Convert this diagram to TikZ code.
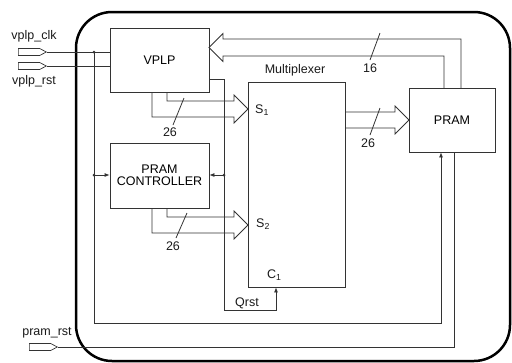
\documentclass[tikz,border=0pt]{standalone}
\usepackage{fontspec}
\setmainfont{Liberation Sans}
\usetikzlibrary{arrows.meta,shapes.symbols}
\begin{document}
\begin{tikzpicture}[x=1pt,y=-1pt,
  font=\fontsize{12.5}{14}\selectfont,
  wire/.style={draw=black!80,line width=0.8pt},
  blk/.style={draw=black!80,line width=0.8pt,minimum width=99pt,minimum height=64pt,inner sep=0pt,align=center},
  inport/.style={signal,signal to=east,signal pointer angle=55,draw=black!80,line width=0.7pt,minimum width=28pt,minimum height=7pt,inner sep=0pt},
  tip/.style={-{Latex[length=5pt,width=4pt]}},
  dot/.style={circle,fill=black!80,inner sep=0pt,minimum size=3pt},
  lbl/.style={inner sep=0pt,text=black!90}]
\useasboundingbox (0,0) rectangle (512,362);
% outer frame
\draw[line width=2.5pt,rounded corners=36pt] (76,12) rectangle (510,361);
% blocks
\node[blk] (vplp) at (159.5,60) {VPLP};
\node[blk,minimum height=65pt] (ctrl) at (159.5,175.5) {PRAM\\[-2pt]CONTROLLER};
\node[blk,minimum width=97pt,minimum height=205pt] (mux) at (296.5,184.5) {};
\node[blk,minimum width=86pt] (pram) at (452,120) {PRAM};
% inputs
\node[inport] (clk) at (29,52) {};
\node[inport] (rst) at (29,66) {};
\node[inport] (prst) at (40,347) {};
\node[lbl] (lclk) at (34,36) {vplp\_clk};
\node[lbl] (lrst) at (34,81) {vplp\_rst};
\node[lbl] (lprst) at (47,333) {pram\_rst};
% labels in mux
\node[lbl] (lmux) at (295,70) {Multiplexer};
\node[lbl,anchor=west] (s1) at (255,110) {S\textsubscript{1}};
\node[lbl,anchor=west] (s2) at (256,224) {S\textsubscript{2}};
\node[lbl,anchor=west] (c1) at (267,275) {C\textsubscript{1}};
\node[lbl] (qrst) at (247,303) {Qrst};
% clock / reset wires
\draw[wire] (clk.east) -- (clk.east -| vplp.west);
\draw[wire] (rst.east) -- (rst.east -| vplp.west);
\coordinate (j1) at (94,52);
\coordinate (j2) at (94,175);
\coordinate (j3) at (224,175);
\coordinate (b1) at (94,323);
\coordinate (b2) at (441,323);
\node[dot] (d1) at (j1) {};
\node[dot] (d2) at (j2) {};
\node[dot] (d3) at (j3) {};
\draw[wire,tip] (j1) -- (b1) -- (b2) -- (b2 |- pram.south);
\draw[wire,tip] (j2) -- (j2 -| ctrl.west);
\draw[wire,tip] (j3) -- (j3 -| ctrl.east);
\coordinate (q0) at (209,79);
\coordinate (q1) at (224,79);
\coordinate (q2) at (224,310);
\coordinate (q3) at (276,310);
\draw[wire,tip] (q0) -- (q1) -- (q2) -- (q3) -- (q3 |- mux.south);
\coordinate (p1) at (454,347);
\draw[wire] (prst.east) -- (p1) -- (p1 |- pram.south);
% bus VPLP -> S1
\draw[wire] (152,92) -- (152,117) -- (234,117) -- (234,123) -- (248,109) -- (234,95) -- (234,101) -- (167,101) -- (167,92);
\draw[wire] (184,98) -- (173,125);
\node[lbl] (n1) at (170,132) {26};
% bus CTRL -> S2
\draw[wire] (152,208) -- (152,233) -- (234,233) -- (234,239) -- (248,225) -- (234,211) -- (234,217) -- (167,217) -- (167,208);
\draw[wire] (187,213) -- (176,238);
\node[lbl] (n2) at (173,246) {26};
% bus MUX -> PRAM
\draw[wire] (345,128) -- (395,128) -- (395,134) -- (409,120) -- (395,106) -- (395,112) -- (345,112);
\draw[wire] (380,108) -- (370,135);
\node[lbl] (n3) at (368,143) {26};
% bus PRAM -> VPLP
\draw[wire] (461,88) -- (461,39) -- (223,39) -- (223,33.5) -- (209,47.5) -- (223,61.5) -- (223,56) -- (444,56) -- (444,88);
\draw[wire] (380,33) -- (370,60);
\node[lbl] (n4) at (370,68) {16};
\end{tikzpicture}
\end{document}
